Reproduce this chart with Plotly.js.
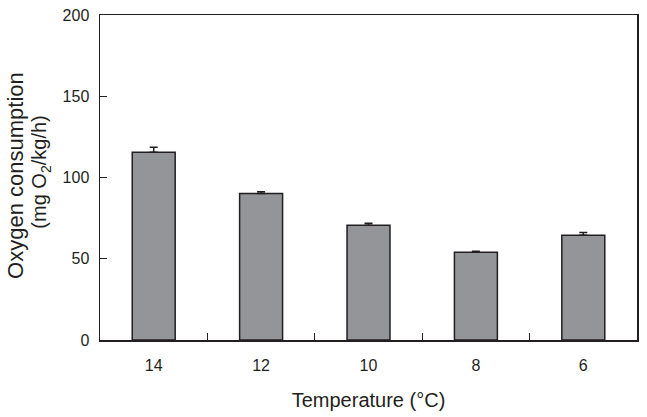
<!DOCTYPE html>
<html>
<head>
<meta charset="utf-8">
<script src="https://cdn.plot.ly/plotly-3.0.1.min.js"></script>
<style>html,body{margin:0;padding:0;background:#fff;}#chart{width:647px;height:417px;}</style>
</head>
<body>
<div id="chart"></div>
<script>
const temperatures = ["14", "12", "10", "8", "6"];
const consumption = [115.5, 90.2, 70.6, 54.0, 64.4];
const errorUp = [3.1, 1.1, 1.2, 0.6, 1.8];
const yTickValues = [0, 50, 100, 150, 200];
const yTitleLines = ["Oxygen consumption", "(mg O<sub>2</sub>/kg/h)"];

const trace = {
  type: "bar",
  x: temperatures,
  y: consumption,
  width: 0.4,
  marker: { color: "#939598", line: { color: "#231f20", width: 1.5 } },
  error_y: { type: "data", symmetric: false, array: errorUp, arrayminus: errorUp.map(() => 0),
             color: "#231f20", thickness: 1.5, width: 4 },
  hoverinfo: "none"
};

const fontFam = "Liberation Sans, Arial, sans-serif";
const layout = {
  width: 647, height: 417,
  margin: { l: 100, r: 10, t: 15, b: 77 },
  paper_bgcolor: "#fff", plot_bgcolor: "#fff",
  showlegend: false,
  font: { family: fontFam, color: "#231f20" },
  xaxis: {
    type: "category",
    range: [-0.5, 4.5],
    tickson: "boundaries",
    ticks: "inside", ticklen: 7, tickwidth: 1, tickcolor: "#231f20",
    ticklabelstandoff: 10,
    showline: true, linecolor: "#231f20", linewidth: 1.5, mirror: true,
    showgrid: false, zeroline: false,
    tickfont: { size: 16, family: fontFam, color: "#231f20" },
    title: { text: "Temperature (°C)", font: { size: 20, family: fontFam, color: "#231f20" }, standoff: 20 }
  },
  yaxis: {
    range: [0, 200],
    tickvals: yTickValues,
    ticktext: yTickValues.map(String),
    ticks: "inside", ticklen: 7, tickwidth: 1, tickcolor: "#231f20",
    ticklabelstandoff: 6,
    showline: true, linecolor: "#231f20", linewidth: 1.5, mirror: true,
    showgrid: false, zeroline: false,
    tickfont: { size: 16, family: fontFam, color: "#231f20" }
  },
  annotations: [
    { text: yTitleLines[0], xref: "paper", yref: "paper", x: 0, y: 0.505, xanchor: "center", yanchor: "middle",
      xshift: -84, textangle: -90, showarrow: false, font: { size: 22, family: fontFam, color: "#231f20" } },
    { text: yTitleLines[1], xref: "paper", yref: "paper", x: 0, y: 0.515, xanchor: "center", yanchor: "middle",
      xshift: -59, textangle: -90, showarrow: false, font: { size: 20, family: fontFam, color: "#231f20" } }
  ]
};

Plotly.newPlot("chart", [trace], layout, { displayModeBar: false, staticPlot: true });
</script>
</body>
</html>
